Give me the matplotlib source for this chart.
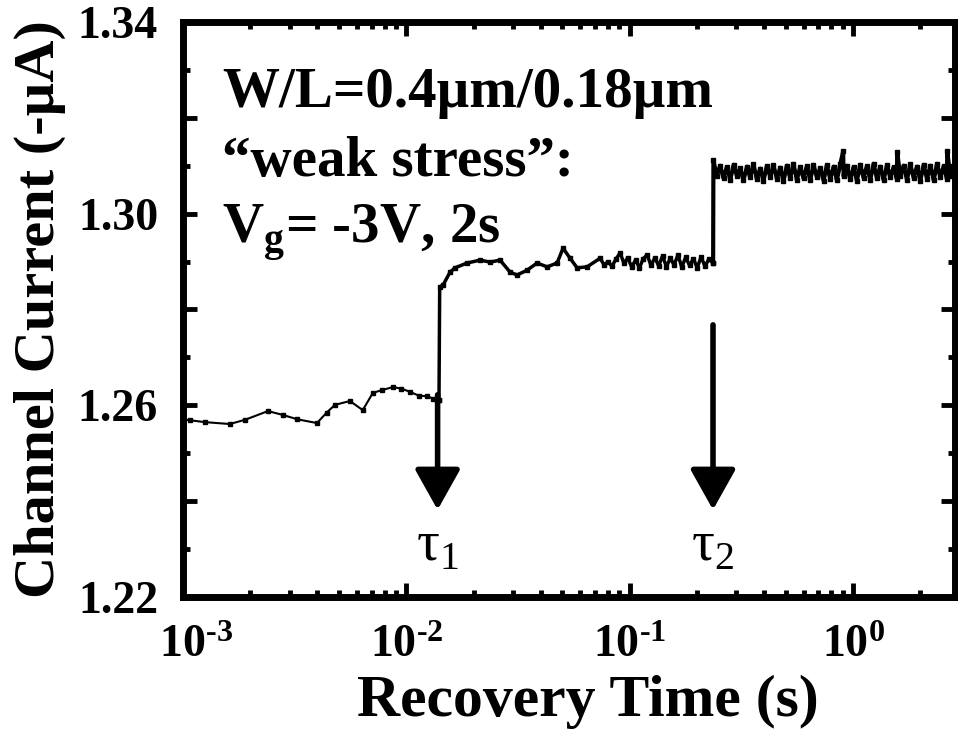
import matplotlib
matplotlib.use("Agg")
import matplotlib.pyplot as plt
from matplotlib.ticker import MultipleLocator, LogLocator, FuncFormatter, NullFormatter
import numpy as np

plt.rcParams["font.family"] = ["Liberation Serif", "DejaVu Serif"]
plt.rcParams["font.weight"] = "bold"

# recovery trace after the 2 s weak stress pulse
# first plateau (before tau1)
t_pre = [1.0e-3, 1.07e-3, 1.25e-3, 1.62e-3, 1.9e-3, 2.4e-3, 2.8e-3, 3.24e-3,
         3.98e-3, 4.4e-3, 4.79e-3, 5.59e-3, 6.38e-3, 7.08e-3, 7.8e-3, 8.7e-3,
         9.5e-3, 1.04e-2, 1.14e-2, 1.24e-2, 1.32e-2, 1.40e-2]
i_pre = [1.2570, 1.2569, 1.2565, 1.2561, 1.2570, 1.2588, 1.2580, 1.2571,
         1.2563, 1.2585, 1.2601, 1.2609, 1.2590, 1.2626, 1.2632, 1.2638,
         1.2635, 1.2628, 1.2620, 1.2619, 1.2614, 1.2612]

# second plateau (between tau1 and tau2)
t_mid = [0.0141, 0.0146, 0.01569, 0.01652, 0.0187, 0.02138, 0.0237, 0.02628,
         0.02913, 0.03131, 0.03471, 0.03849, 0.04267, 0.0473, 0.05031, 0.05407,
         0.05813, 0.06446,
         0.0737, 0.0768, 0.0800, 0.0833, 0.0867, 0.0906, 0.0943, 0.098, 0.102, 0.1062,
         0.1105, 0.115, 0.1197, 0.1245, 0.1296, 0.1348, 0.1403, 0.146, 0.152, 0.158,
         0.1645, 0.171, 0.178, 0.1853, 0.1928, 0.2006, 0.2088, 0.2172, 0.226, 0.2363]
i_mid = [1.2847, 1.2851, 1.2878, 1.2887, 1.2897, 1.2903, 1.2899, 1.2903,
         1.2878, 1.2872, 1.2882, 1.2897, 1.2889, 1.2897, 1.2928, 1.2907,
         1.2887, 1.2889,
         1.2907, 1.2893, 1.2900, 1.2890, 1.2905, 1.2918, 1.2896, 1.2908, 1.2889, 1.2903,
         1.2887, 1.2906, 1.2914, 1.2892, 1.2908, 1.2891, 1.2912, 1.2889, 1.2907, 1.2893,
         1.2914, 1.2888, 1.2909, 1.2892, 1.2906, 1.2887, 1.2910, 1.2890, 1.2905, 1.2897]

# third plateau (after tau2)
t_post = [0.237, 0.245, 0.254, 0.263, 0.272, 0.282, 0.292, 0.302, 0.312, 0.323,
          0.335, 0.346, 0.358, 0.371, 0.384, 0.397, 0.411, 0.426, 0.44, 0.456,
          0.472, 0.488, 0.505, 0.523, 0.541, 0.56, 0.58, 0.6, 0.621, 0.643,
          0.665, 0.689, 0.713, 0.738, 0.763, 0.79, 0.818, 0.846, 0.876, 0.903,
          0.907, 0.938, 0.971, 1.005, 1.04, 1.077, 1.114, 1.153, 1.194, 1.235,
          1.279, 1.323, 1.37, 1.418, 1.467, 1.519, 1.572, 1.576, 1.627, 1.684,
          1.743, 1.804, 1.867, 1.933, 2.0, 2.07, 2.143, 2.218, 2.296, 2.376,
          2.459, 2.545, 2.634, 2.64, 2.726, 2.822, 2.9]
i_post = [1.3112, 1.3078, 1.3100, 1.3074, 1.3097, 1.3071, 1.3102, 1.3079, 1.3095, 1.3070,
          1.3098, 1.3076, 1.3103, 1.3072, 1.3094, 1.3069, 1.3099, 1.3077, 1.3101, 1.3073,
          1.3096, 1.3068, 1.3100, 1.3075, 1.3104, 1.3071, 1.3097, 1.3074, 1.3099, 1.3070,
          1.3102, 1.3076, 1.3095, 1.3069, 1.3101, 1.3073, 1.3098, 1.3070, 1.3103, 1.3130,
          1.3078, 1.3100, 1.3072, 1.3097, 1.3069, 1.3102, 1.3075, 1.3099, 1.3071, 1.3104,
          1.3074, 1.3098, 1.3070, 1.3101, 1.3076, 1.3097, 1.3072, 1.3128, 1.3079, 1.3100,
          1.3071, 1.3103, 1.3075, 1.3098, 1.3069, 1.3102, 1.3073, 1.3100, 1.3070, 1.3104,
          1.3076, 1.3099, 1.3072, 1.3130, 1.3078, 1.3101, 1.3074]

# capture/emission time markers: (time, arrow top, arrow tip, label)
tau_t = [0.0138, 0.236]
tau_top = [1.2622, 1.2768]
tau_tip = [1.2382, 1.2382]
tau_labels = ["τ$_\\mathregular{1}$", "τ$_\\mathregular{2}$"]

fig = plt.figure(figsize=(9.58, 7.4), dpi=100)
ax = fig.add_axes([183 / 958, 1 - 597 / 740, (955 - 183) / 958, (597 - 22) / 740])

# the trace gets denser (and so heavier) at longer times
ax.plot(t_pre, i_pre, color="black", lw=1.5, marker="s", ms=3.5)
ax.plot(t_pre[-1:] + t_mid, i_pre[-1:] + i_mid, color="black", lw=2.5,
        marker="s", ms=3)
ax.plot(t_mid[-1:] + t_post, i_mid[-1:] + i_post, color="black", lw=3,
        marker="s", ms=3.5)

for t, top, tip, lab in zip(tau_t, tau_top, tau_tip, tau_labels):
    ax.annotate("", xy=(t, tip), xytext=(t, top),
                arrowprops=dict(arrowstyle="-|>,head_length=1.25,head_width=0.7",
                                mutation_scale=20, lw=4, color="black",
                                shrinkA=0, shrinkB=0))
    ax.text(t, 1.2305, lab, ha="center", va="center", fontsize=41,
            fontweight="normal")


def decade_label(v, pos):
    e = int(round(np.log10(v)))
    sign = "\u2010" if e < 0 else ""
    # the first label sits a little to the right of its tick
    lead = r"\;\;" if e == -3 else ""
    return r"$\mathregular{%s10^{%s%d}}$" % (lead, sign, abs(e))


ax.set_xscale("log")
ax.set_xlim(1e-3, 2.86)
ax.set_ylim(1.22, 1.34)

ax.xaxis.set_major_locator(LogLocator(base=10))
ax.xaxis.set_minor_locator(LogLocator(base=10, subs=np.arange(2, 10)))
ax.xaxis.set_major_formatter(FuncFormatter(decade_label))
ax.xaxis.set_minor_formatter(NullFormatter())

ax.yaxis.set_major_locator(MultipleLocator(0.02))
ax.yaxis.set_minor_locator(MultipleLocator(0.01))
ax.yaxis.set_major_formatter(FuncFormatter(
    lambda v, p: f"{v:.2f}" if round((v - 1.22) / 0.02) % 2 == 0 else ""))

for side in ax.spines.values():
    side.set_linewidth(5)

ax.tick_params(which="both", direction="in", top=True, right=True, width=3.5)
ax.tick_params(which="major", length=10, labelsize=33)
ax.tick_params(axis="x", which="major", pad=20)
ax.tick_params(axis="y", which="major", pad=18)
ax.tick_params(which="minor", length=5)

ax.set_xlabel("Recovery Time (s)", fontsize=43, fontweight="bold", va="center")
ax.xaxis.set_label_coords(0.5246, -0.1826)
ax.set_ylabel("Channel Current (-µA)", fontsize=42, fontweight="bold", va="center")
ax.yaxis.set_label_coords(-0.185, 0.5)

fig.text(222 / 958, 1 - 107 / 740, "W/L=0.4µm/0.18µm", fontsize=41,
         fontweight="bold", va="baseline")
fig.text(222 / 958, 1 - 176 / 740, "“weak stress”:", fontsize=41,
         fontweight="bold", va="baseline")
fig.text(222 / 958, 1 - 243 / 740, "V$_\\mathregular{g}$= -3V, 2s", fontsize=41,
         fontweight="bold", va="baseline")

fig.savefig("out.png", dpi=100)
